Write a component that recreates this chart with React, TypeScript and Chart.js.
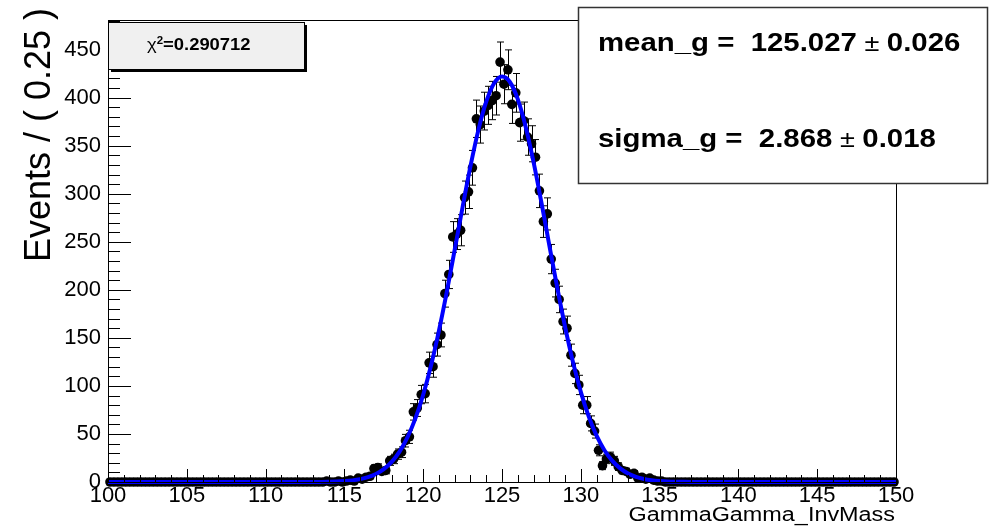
import React, { useEffect, useRef } from "react";
import { Chart, registerables } from "chart.js";

Chart.register(...registerables);

// ---- histogram definition (bins of 0.25 from 100 to 150) ----
const histLow = 100;
const binWidth = 0.25;
const counts: number[] = [
  // 100 - 105
  0, 0, 0, 0, 0, 0, 0, 0, 0, 0, 0, 0, 0, 0, 0, 0, 0, 0, 0, 0,
  // 105 - 110
  0, 0, 0, 0, 0, 0, 0, 0, 0, 0, 0, 0, 0, 0, 0, 0, 0, 0, 0, 0,
  // 110 - 115
  0, 0, 0, 0, 0, 0, 0, 0, 0, 0, 0, 0, 0, 0, 0, 1, 0, 0, 1, 0,
  // 115 - 120
  1, 2, 1, 4, 3, 5, 6, 14, 15, 11, 12, 22, 24, 29, 31, 43, 47, 73, 77, 91,
  // 120 - 125
  92, 124, 120, 143, 153, 196, 216, 255, 258, 262, 296, 302, 327, 378, 372, 386, 392, 397, 402, 437,
  // 125 - 130
  414, 429, 393, 405, 374, 376, 359, 352, 338, 303, 271, 279, 232, 207, 190, 167, 160, 132, 113, 101,
  // 130 - 135
  80, 80, 61, 53, 33, 17, 24, 26, 22, 16, 12, 11, 8, 9, 4, 5, 3, 4, 2, 1,
  // 135 - 140
  1, 0, 0, 0, 0, 0, 0, 0, 0, 0, 0, 0, 0, 0, 0, 0, 0, 0, 0, 0,
  // 140 - 145
  0, 0, 0, 0, 0, 0, 0, 0, 0, 0, 0, 0, 0, 0, 0, 0, 0, 0, 0, 0,
  // 145 - 150
  0, 0, 0, 0, 0, 0, 0, 0, 0, 0, 0, 0, 0, 0, 0, 0, 0, 0, 0, 0,
];

// ---- fitted gaussian curve ----
const fitX: number[] = [
  100, 113, 113.5, 114, 114.5, 115, 115.5, 116, 116.5, 117, 117.5, 118, 118.5,
  119, 119.5, 120, 120.5, 121, 121.5, 122, 122.5, 123, 123.5, 124, 124.5, 125,
  125.5, 126, 126.5, 127, 127.5, 128, 128.5, 129, 129.5, 130, 130.5, 131, 131.5,
  132, 132.5, 133, 133.5, 134, 134.5, 135, 135.5, 136, 136.5, 137, 150,
];
const fitY: number[] = [
  0, 0.06, 0.13, 0.26, 0.5, 0.94, 1.69, 2.98, 5.08, 8.4, 13.48, 20.98, 31.67,
  46.4, 65.9, 90.8, 121.4, 157.5, 198.1, 241.8, 286.2, 328.7, 366.2, 395.8, 415.0, 422.0,
  416.3, 398.4, 369.8, 333.1, 291.0, 246.6, 202.7, 161.7, 125.0, 93.8, 68.3, 48.2, 33.1,
  22.0, 14.2, 8.85, 5.37, 3.16, 1.8, 1.0, 0.54, 0.28, 0.14, 0.07, 0,
];

// ---- axes ----
const xMin = 100;
const xMax = 150;
const yMin = 0;
const yMax = 480.6;
const xTickValues: number[] = [100, 105, 110, 115, 120, 125, 130, 135, 140, 145, 150];
const yTickValues: number[] = [0, 50, 100, 150, 200, 250, 300, 350, 400, 450];
const xMinorStep = 1;
const yMinorStep = 10;

// ---- texts ----
const yTitle = "Events / ( 0.25 )";
const xTitle = "GammaGamma_InvMass";
const chi2Label = "0.290712";
const statRows: { name: string; value: string; error: string }[] = [
  { name: "mean_g", value: "125.027", error: "0.026" },
  { name: "sigma_g", value: "2.868", error: "0.018" },
];

const FONT = "'Liberation Sans', Arial, Helvetica, sans-serif";

function drawParts(
  ctx: CanvasRenderingContext2D,
  parts: { text: string; font: string; dy?: number }[],
  x: number,
  y: number,
  sx: number
) {
  ctx.save();
  ctx.translate(x, y);
  ctx.scale(sx, 1);
  ctx.textAlign = "left";
  ctx.textBaseline = "alphabetic";
  ctx.fillStyle = "#000";
  let cx = 0;
  for (const p of parts) {
    ctx.font = p.font;
    ctx.fillText(p.text, cx, p.dy || 0);
    cx += ctx.measureText(p.text).width;
  }
  ctx.restore();
}

const rootPlugin = {
  id: "rootStyle",
  beforeDatasetsDraw(chart: any) {
    const ctx: CanvasRenderingContext2D = chart.ctx;
    const xs = chart.scales.x;
    const ys = chart.scales.y;
    ctx.save();
    ctx.strokeStyle = "#000";
    ctx.lineWidth = 1;
    counts.forEach((c, i) => {
      if (c <= 0) return;
      const err = Math.sqrt(c);
      const px = Math.round(xs.getPixelForValue(histLow + (i + 0.5) * binWidth)) + 0.5;
      const yTop = ys.getPixelForValue(c + err);
      const yBot = ys.getPixelForValue(Math.max(0, c - err));
      ctx.beginPath();
      ctx.moveTo(px, yTop);
      ctx.lineTo(px, yBot);
      ctx.moveTo(px - 3.5, yTop);
      ctx.lineTo(px + 3.5, yTop);
      ctx.moveTo(px - 3.5, yBot);
      ctx.lineTo(px + 3.5, yBot);
      ctx.stroke();
    });
    ctx.restore();
  },
  afterDatasetsDraw(chart: any) {
    const ctx: CanvasRenderingContext2D = chart.ctx;
    const xs = chart.scales.x;
    const ys = chart.scales.y;
    const a = chart.chartArea;
    ctx.save();
    // frame
    ctx.strokeStyle = "#000";
    ctx.lineWidth = 1;
    ctx.strokeRect(Math.round(a.left) + 0.5, Math.round(a.top) + 0.5, Math.round(a.right - a.left), Math.round(a.bottom - a.top));
    // y ticks (inside)
    ctx.beginPath();
    for (let v = yMin; v <= yMax + 1e-6; v += yMinorStep) {
      const py = Math.round(ys.getPixelForValue(v)) + 0.5;
      const major = yTickValues.includes(v);
      ctx.moveTo(a.left, py);
      ctx.lineTo(a.left + (major ? 23 : 12), py);
    }
    // x ticks (inside)
    for (let v = xMin; v <= xMax + 1e-6; v += xMinorStep) {
      const px = Math.round(xs.getPixelForValue(v)) + 0.5;
      const major = xTickValues.includes(v);
      ctx.moveTo(px, a.bottom);
      ctx.lineTo(px, a.bottom - (major ? 13 : 7));
    }
    ctx.stroke();

    // chi2 box with shadow
    const bx = a.left, by = 22, bw = 196, bh = 47;
    ctx.fillStyle = "#000";
    ctx.fillRect(bx + 3, by + 3, bw, bh);
    ctx.fillStyle = "#f0f0f0";
    ctx.fillRect(bx, by, bw, bh);
    ctx.strokeStyle = "#000";
    ctx.strokeRect(bx + 0.5, by + 0.5, bw, bh);
    drawParts(
      ctx,
      [
        { text: "\u03c7", font: `16px ${FONT}` },
        { text: "2", font: `bold 10px ${FONT}`, dy: -6 },
        { text: "=" + chi2Label, font: `bold 16px ${FONT}` },
      ],
      147,
      50,
      1.15
    );

    // stats box
    const sx0 = 578, sy0 = 7, sw = 409, sh = 176;
    ctx.fillStyle = "#fff";
    ctx.fillRect(sx0, sy0, sw, sh);
    ctx.strokeStyle = "#333";
    ctx.lineWidth = 1.5;
    ctx.strokeRect(sx0 + 0.5, sy0 + 0.5, sw, sh);
    const baselines = [51, 147];
    statRows.forEach((r, k) => {
      drawParts(
        ctx,
        [
          { text: `${r.name} =  ${r.value}`, font: `bold 26px ${FONT}` },
          { text: " \u00b1 ", font: `24px ${FONT}` },
          { text: r.error, font: `bold 26px ${FONT}` },
        ],
        598,
        baselines[k],
        1.13
      );
    });

    // axis titles
    ctx.fillStyle = "#000";
    ctx.save();
    ctx.translate(50, 8);
    ctx.rotate(-Math.PI / 2);
    ctx.font = `36px ${FONT}`;
    ctx.textAlign = "right";
    ctx.textBaseline = "alphabetic";
    ctx.fillText(yTitle, 0, 0);
    ctx.restore();

    ctx.save();
    ctx.translate(Math.round(a.right) - 1, 521);
    ctx.scale(1.17, 1);
    ctx.font = `20px ${FONT}`;
    ctx.textAlign = "right";
    ctx.textBaseline = "alphabetic";
    ctx.fillText(xTitle, 0, 0);
    ctx.restore();

    ctx.restore();
  },
};

export default function App() {
  const canvasRef = useRef<HTMLCanvasElement | null>(null);

  useEffect(() => {
    const canvas = canvasRef.current;
    if (!canvas) return;
    const points = counts.map((c, i) => ({ x: histLow + (i + 0.5) * binWidth, y: c }));
    const curve = fitX.map((x, i) => ({ x, y: fitY[i] }));
    const chart = new Chart(canvas, {
      type: "scatter",
      data: {
        datasets: [
          {
            label: "fit",
            data: curve,
            showLine: true,
            borderColor: "#0000ff",
            borderWidth: 4,
            pointRadius: 0,
            cubicInterpolationMode: "monotone",
            clip: false,
          } as any,
          {
            label: "data",
            data: points,
            showLine: false,
            pointRadius: 4.8,
            pointBackgroundColor: "#000",
            pointBorderColor: "#000",
            pointBorderWidth: 0,
            clip: false,
          } as any,
        ],
      },
      options: {
        responsive: false,
        animation: false,
        devicePixelRatio: 1,
        layout: { padding: { left: 0, right: 98, top: 11, bottom: 0 } },
        plugins: { legend: { display: false }, tooltip: { enabled: false } },
        scales: {
          x: {
            type: "linear",
            min: xMin,
            max: xMax,
            afterBuildTicks: (s: any) => {
              s.ticks = xTickValues.map((v) => ({ value: v }));
            },
            afterFit: (s: any) => {
              s.height = 45;
            },
            grid: { display: false, drawTicks: false },
            border: { display: false },
            ticks: {
              color: "#000",
              font: { family: FONT, size: 22 },
              padding: 1,
              maxRotation: 0,
              autoSkip: false,
            },
          },
          y: {
            type: "linear",
            min: yMin,
            max: yMax,
            afterBuildTicks: (s: any) => {
              s.ticks = yTickValues.map((v) => ({ value: v }));
            },
            afterFit: (s: any) => {
              s.width = 108;
            },
            grid: { display: false, drawTicks: false },
            border: { display: false },
            ticks: {
              color: "#000",
              font: { family: FONT, size: 22 },
              padding: 7,
              autoSkip: false,
            },
          },
        },
      } as any,
      plugins: [rootPlugin],
    });
    return () => chart.destroy();
  }, []);

  return (
    <div style={{ position: "fixed", left: 0, top: 0, width: 994, height: 527, background: "#fff" }}>
      <canvas ref={canvasRef} width={994} height={527} style={{ display: "block" }} />
    </div>
  );
}
